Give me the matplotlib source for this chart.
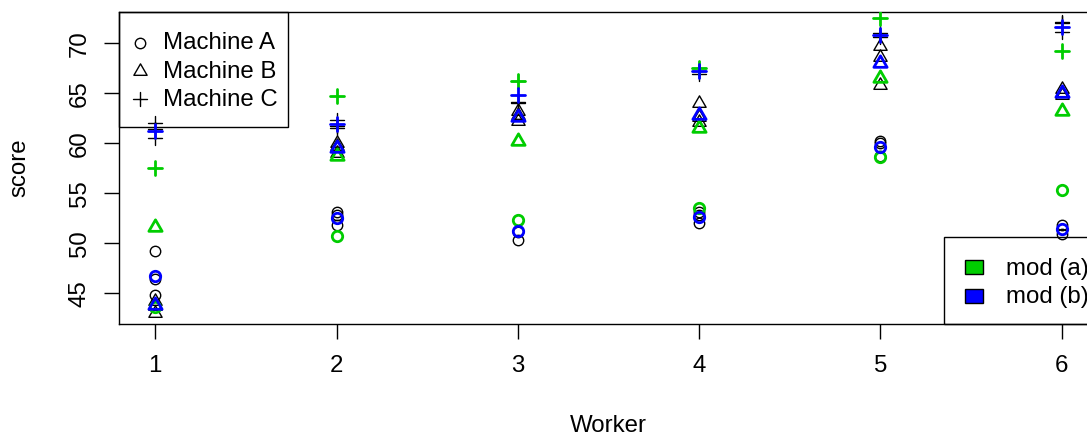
import numpy as np
import matplotlib
matplotlib.use("Agg")
import matplotlib.pyplot as plt
from matplotlib.path import Path
from matplotlib.markers import MarkerStyle
from matplotlib.patches import Rectangle
from matplotlib.lines import Line2D

# ---- data: Machines scores by worker (three replicates per machine) ----
worker = [1, 2, 3, 4, 5, 6]
worker_ticks = [1, 2, 3, 4, 5, 6]
score_ticks = [45, 50, 55, 60, 65, 70]

obs_A = [[46.4, 44.8, 49.2], [51.8, 52.8, 53.1], [51.1, 52.3, 50.3],
         [52.0, 52.8, 53.1], [60.0, 60.2, 58.7], [50.9, 51.8, 51.4]]
obs_B = [[43.0, 44.2, 43.7], [59.7, 60.0, 59.0], [63.2, 62.8, 62.2],
         [62.1, 62.6, 64.0], [68.6, 65.8, 69.7], [64.8, 65.0, 65.4]]
obs_C = [[62.0, 61.4, 60.5], [61.5, 61.7, 62.3], [64.1, 66.2, 64.0],
         [67.5, 67.2, 66.9], [70.8, 70.6, 71.0], [72.1, 72.0, 71.1]]

# fitted values, model (a): random worker intercept
fit_a_A = [43.65, 50.77, 52.29, 53.57, 58.60, 55.31]
fit_a_B = [51.61, 58.73, 60.25, 61.53, 66.57, 63.27]
fit_a_C = [57.56, 64.68, 66.20, 67.48, 72.52, 69.22]

# fitted values, model (b): worker and worker:machine effects
fit_b_A = [46.76, 52.53, 51.26, 52.65, 59.59, 51.44]
fit_b_B = [43.83, 59.55, 62.68, 62.87, 67.98, 65.02]
fit_b_C = [61.25, 61.90, 64.80, 67.20, 70.82, 71.67]

machine_labels = ["Machine A", "Machine B", "Machine C"]
model_labels = ["mod (a)", "mod (b)"]
model_colors = ["#00CD00", "#0000FF"]

# ---- styling ----
plt.rcParams["font.family"] = ["Liberation Sans", "DejaVu Sans"]
FS = 17.3
W, H = 1087, 437

s3 = np.sqrt(3.0)
# centroid-centred triangle (apex up)
tri_path = Path([(0, 2), (-s3, -1), (s3, -1), (0, 2)],
                [Path.MOVETO, Path.LINETO, Path.LINETO, Path.CLOSEPOLY])
mk_circle = MarkerStyle("o", fillstyle="none")
mk_tri = MarkerStyle(tri_path, fillstyle="none", joinstyle="round")
mk_plus = MarkerStyle("+", capstyle="round")
markers = [(mk_circle, 7.5), (mk_tri, 11.0), (mk_plus, 10.6)]

fig = plt.figure(figsize=(W / 100, H / 100), dpi=100)
fig.patch.set_facecolor("white")
# axes box in pixel terms: left 119, right 1098, top 12, bottom 324
ax = fig.add_axes([119 / W, (H - 324) / H, (1098 - 119) / W, (324 - 12) / H])
ax.set_xlim(0.8, 6.2)
ax.set_ylim(41.93, 73.13)


def px_to_axes(px, py):
    return (px - 119) / (1098 - 119), (324 - py) / (324 - 12)


def draw_points(groups, color, mew, z):
    for vals, (mk, ms) in zip(groups, markers):
        if isinstance(vals[0], list):
            xs = [w for w, v in zip(worker, vals) for _ in v]
            ys = [y for v in vals for y in v]
        else:
            xs, ys = worker, vals
        ax.plot(xs, ys, linestyle="none", marker=mk, markersize=ms,
                markeredgecolor=color, markerfacecolor="none",
                markeredgewidth=mew, zorder=z)


draw_points([obs_A, obs_B, obs_C], "black", 1.0, 3)
draw_points([fit_a_A, fit_a_B, fit_a_C], model_colors[0], 2.0, 4)
draw_points([fit_b_A, fit_b_B, fit_b_C], model_colors[1], 2.0, 5)

# ---- axes ----
for sp in ax.spines.values():
    sp.set_linewidth(1.0)
ax.set_xticks(worker_ticks)
ax.set_xticklabels([str(t) for t in worker_ticks])
ax.set_yticks(score_ticks)
ax.set_yticklabels([str(t) for t in score_ticks], rotation=90, va="center")
ax.tick_params(axis="both", direction="out", length=10.8, width=1.0,
               labelsize=FS, colors="black")
ax.tick_params(axis="x", pad=11.5)
ax.tick_params(axis="y", pad=9.5)

fig.text(608 / W, 1 - 436.5 / H, "Worker", ha="center", va="bottom",
         fontsize=FS)
fig.text(25 / W, 1 - 168 / H, "score", ha="center", va="baseline",
         fontsize=FS, rotation=90, rotation_mode="anchor")

# ---- legend: machines (top left) ----
x0, y0 = px_to_axes(119, 127)
x1, y1 = px_to_axes(288, 12)
ax.add_patch(Rectangle((x0, y0), x1 - x0, y1 - y0, transform=ax.transAxes,
                       facecolor="none", edgecolor="black", linewidth=1.0,
                       zorder=2, clip_on=False))
for i, (lab, (mk, ms)) in enumerate(zip(machine_labels, markers)):
    py = 43 + 28 * i
    mx, my = px_to_axes(140, py)
    ax.add_line(Line2D([mx], [my], transform=ax.transAxes, linestyle="none",
                       marker=mk, markersize=ms, markeredgecolor="black",
                       markerfacecolor="none", markeredgewidth=1.0,
                       clip_on=False))
    tx, ty = px_to_axes(163, py + 6.5)
    ax.text(tx, ty, lab, transform=ax.transAxes, ha="left", va="baseline",
            fontsize=FS)

# ---- legend: models (bottom right) ----
x0, y0 = px_to_axes(944, 324)
x1, y1 = px_to_axes(1098, 237)
ax.add_patch(Rectangle((x0, y0), x1 - x0, y1 - y0, transform=ax.transAxes,
                       facecolor="none", edgecolor="black", linewidth=1.0,
                       zorder=2, clip_on=False))
for i, (lab, col) in enumerate(zip(model_labels, model_colors)):
    py = 267 + 28.5 * i
    bx0, by0 = px_to_axes(965, py + 7)
    bx1, by1 = px_to_axes(983, py - 7)
    ax.add_patch(Rectangle((bx0, by0), bx1 - bx0, by1 - by0,
                           transform=ax.transAxes, facecolor=col,
                           edgecolor="black", linewidth=1.0, clip_on=False))
    tx, ty = px_to_axes(1006, py + 8)
    ax.text(tx, ty, lab, transform=ax.transAxes, ha="left", va="baseline",
            fontsize=FS)

fig.savefig("out.png", dpi=100, facecolor="white")
